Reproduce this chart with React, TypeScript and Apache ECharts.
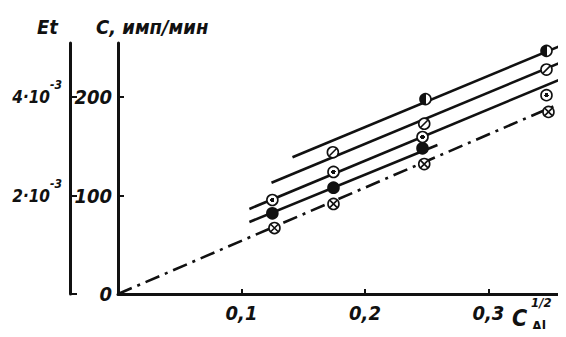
import React, { useEffect, useRef } from "react";
import * as echarts from "echarts";

// C_Al^(1/2) positions of the measured points
const xVals = [0.126, 0.175, 0.248, 0.347];

// measured points, C (imp/min)
const halfFilled: [number, number][] = [[0.249, 198], [0.347, 247]];
const slashed: [number, number][] = [[0.174, 144], [0.248, 173], [0.347, 228]];
const dotted: [number, number][] = [[0.125, 95.5], [0.1745, 124], [0.2466, 159.5], [0.347, 202]];
const filled: [number, number][] = [[0.125, 82], [0.1745, 108], [0.2466, 148]];
const crossed: [number, number][] = [[0.1267, 67], [0.1745, 91.5], [0.248, 132], [0.3486, 185]];

// fitted straight lines (end points)
const line1: [number, number][] = [[0.1413, 139], [0.36, 253]];
const line2: [number, number][] = [[0.1243, 113], [0.36, 236]];
const line3: [number, number][] = [[0.1064, 86.4], [0.359, 218.5]];
const line4: [number, number][] = [[0.1064, 73.2], [0.2587, 151.4]];
const lineDashDot: [number, number][] = [[0, 0], [0.359, 194]];

// axis ticks/labels
const xTicks = [0.1, 0.2, 0.3];
const cTicks = [100, 200];
const cLabels = [0, 100, 200];
const etTicks = [0, 100, 200];
const etLabelValues = [100, 200];
const etLabelMantissa: Record<number, string> = { 100: "2·10", 200: "4·10" };
const etExponent = "-3";

const xMin = 0;
const xMax = 0.3628;
const yMin = 0;
const yMax = 255;

const FONT = "'DejaVu Sans Condensed', 'Liberation Sans Narrow', 'DejaVu Sans', sans-serif";
const INK = "#111";

export default function App() {
  const ref = useRef<HTMLDivElement>(null);

  useEffect(() => {
    if (!ref.current) return;
    const chart = echarts.init(ref.current, undefined, { renderer: "svg" });

    const lineSeries = (data: [number, number][], dash?: number[]) => ({
      type: "line",
      data,
      symbol: "none",
      silent: true,
      z: 2,
      lineStyle: { color: INK, width: 2.6, type: dash ? dash : "solid", cap: "butt" },
    });

    const circleBase = (data: [number, number][], color: any) => ({
      type: "scatter",
      data,
      symbol: "circle",
      symbolSize: 11,
      z: 5,
      itemStyle: { color, borderColor: INK, borderWidth: 1.6, opacity: 1 },
    });

    const glyph = (data: [number, number][], path: string, size: number) => ({
      type: "scatter",
      data,
      symbol: path,
      symbolSize: size,
      z: 6,
      itemStyle: { color: "rgba(0,0,0,0)", borderColor: INK, borderWidth: 1.6, opacity: 1 },
    });

    const halfGrad = {
      type: "linear", x: 0, y: 0, x2: 1, y2: 0,
      colorStops: [
        { offset: 0, color: INK }, { offset: 0.55, color: INK },
        { offset: 0.55, color: "#fff" }, { offset: 1, color: "#fff" },
      ],
    };
    const dotGrad = {
      type: "radial", x: 0.5, y: 0.5, r: 0.5,
      colorStops: [
        { offset: 0, color: INK }, { offset: 0.38, color: INK },
        { offset: 0.38, color: "#fff" }, { offset: 1, color: "#fff" },
      ],
    };

    const axisText = { fontFamily: FONT, fontStyle: "italic", fontSize: 20, fontWeight: "bold", color: INK };

    chart.setOption({
      animation: false,
      backgroundColor: "#fff",
      grid: { left: 118, right: 0, top: 43, bottom: 43, containLabel: false },
      xAxis: {
        type: "value",
        min: xMin,
        max: xMax,
        interval: 0.1,
        axisLine: { show: true, lineStyle: { color: INK, width: 3 } },
        axisTick: { show: true, inside: true, length: 5, customValues: xTicks, lineStyle: { color: INK, width: 2 } },
        axisLabel: {
          show: true,
          customValues: xTicks,
          margin: 9,
          ...axisText,
          formatter: (v: number) => v.toFixed(1).replace(".", ","),
        },
        splitLine: { show: false },
      },
      yAxis: [
        {
          type: "value",
          min: yMin,
          max: yMax,
          interval: 100,
          position: "left",
          axisLine: { show: true, lineStyle: { color: INK, width: 3 } },
          axisTick: { show: true, inside: true, length: 6, customValues: cTicks, lineStyle: { color: INK, width: 2 } },
          axisLabel: { show: true, customValues: cLabels, margin: 6, ...axisText },
          splitLine: { show: false },
        },
        {
          type: "value",
          min: yMin,
          max: yMax,
          interval: 100,
          position: "left",
          offset: 48,
          axisLine: { show: true, lineStyle: { color: INK, width: 3 } },
          axisTick: { show: true, inside: true, length: 7, customValues: etTicks, lineStyle: { color: INK, width: 2 } },
          axisLabel: {
            show: true,
            customValues: etLabelValues,
            margin: 8,
            formatter: (v: number) => `{a|${etLabelMantissa[v] ?? ""}}{s|${etExponent}}`,
            rich: {
              a: { ...axisText, fontSize: 17, lineHeight: 36, verticalAlign: "middle" },
              s: { ...axisText, fontSize: 12, lineHeight: 36, verticalAlign: "top" },
            },
          },
          splitLine: { show: false },
        },
      ],
      series: [
        lineSeries(line1),
        lineSeries(line2),
        lineSeries(line3),
        lineSeries(line4),
        lineSeries(lineDashDot, [15, 6, 3, 6]),
        circleBase(halfFilled, halfGrad),
        circleBase(slashed, "#fff"),
        glyph(slashed, "path://M0 20L20 0", 7),
        circleBase(dotted, dotGrad),
        circleBase(filled, INK),
        circleBase(crossed, "#fff"),
        glyph(crossed, "path://M0 0L20 20M20 0L0 20", 7),
      ],
      graphic: [
        { type: "text", left: 37, top: 17, style: { text: "Et", font: `italic bold 20px ${FONT}`, fill: INK } },
        { type: "text", left: 96, top: 17, style: { text: "C, имп/мин", font: `italic bold 20px ${FONT}`, fill: INK } },
        { type: "text", left: 512, top: 306, style: { text: "C", font: `italic bold 23px ${FONT}`, fill: INK } },
        { type: "text", left: 531, top: 296, style: { text: "1/2", font: `italic bold 13px ${FONT}`, fill: INK } },
        { type: "text", left: 532, top: 319, style: { text: "Al", font: `bold 14px ${FONT}`, fill: INK } },
      ],
    });

    return () => chart.dispose();
  }, []);

  return <div ref={ref} style={{ width: 566, height: 337, margin: -8 }} />;
}
